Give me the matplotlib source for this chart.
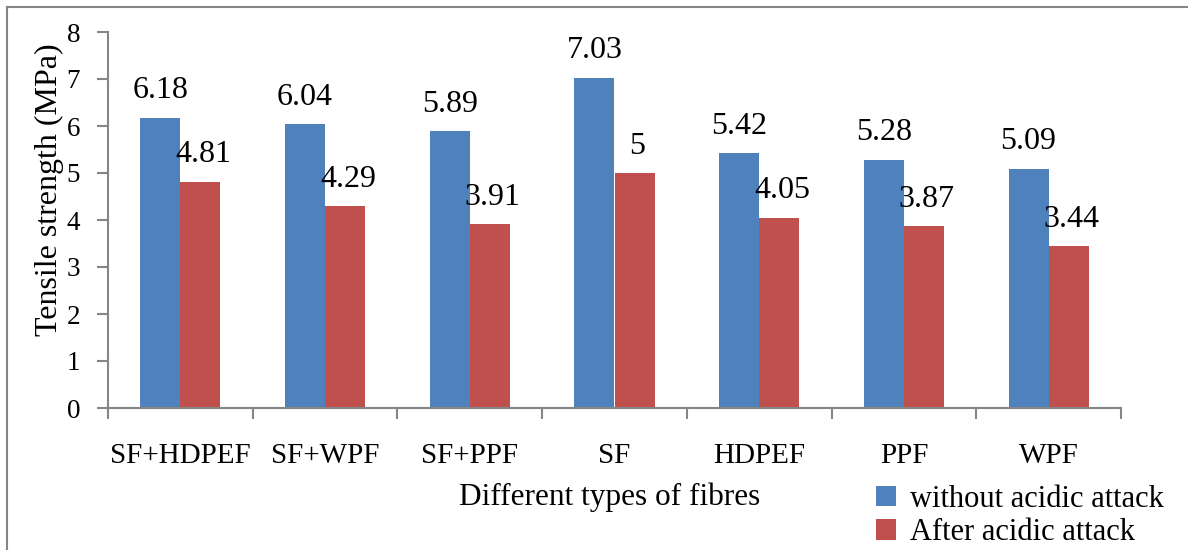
import matplotlib
matplotlib.use("Agg")
import matplotlib.pyplot as plt
import numpy as np
from matplotlib.lines import Line2D

categories = ["SF+HDPEF", "SF+WPF", "SF+PPF", "SF", "HDPEF", "PPF", "WPF"]
without_acid = [6.18, 6.04, 5.89, 7.03, 5.42, 5.28, 5.09]
after_acid = [4.81, 4.29, 3.91, 5.00, 4.05, 3.87, 3.44]
without_labels = ["6.18", "6.04", "5.89", "7.03", "5.42", "5.28", "5.09"]
after_labels = ["4.81", "4.29", "3.91", "5", "4.05", "3.87", "3.44"]
series_names = ["without acidic attack", "After acidic attack"]
yticks = [0, 1, 2, 3, 4, 5, 6, 7, 8]

plt.rcParams['font.family'] = ['Liberation Serif', 'DejaVu Serif']
W, H = 1188, 550
fig = plt.figure(figsize=(W / 100, H / 100), dpi=100)
ax = fig.add_axes([108 / W, 1 - 408 / H, (1121 - 108) / W, (408 - 32) / H])

blue = "#4F81BD"
red = "#C0504D"
gray = "#868686"
x = np.arange(len(categories))
bw = 0.277
b1 = ax.bar(x - bw / 2, without_acid, bw, color=blue, label=series_names[0])
b2 = ax.bar(x + bw / 2, after_acid, bw, color=red, label=series_names[1])

for xi, v, t in zip(x, without_acid, without_labels):
    ax.annotate(t, (xi - bw / 2, v), xytext=(0, 14), textcoords="offset points",
                ha="center", va="baseline", fontsize=23)
for xi, v, t in zip(x, after_acid, after_labels):
    ax.annotate(t, (xi + bw / 2, v), xytext=(2, 14), textcoords="offset points",
                ha="center", va="baseline", fontsize=23)

ax.set_xlim(-0.5, len(categories) - 0.5)
ax.set_ylim(0, 8)
ax.set_yticks(yticks)
ax.set_yticklabels([str(v) for v in yticks], fontsize=19.5)
ax.set_xticks(np.arange(-0.5, len(categories), 1.0))
ax.set_xticklabels([])
ax.set_xticks(x, minor=True)
ax.set_xticklabels(categories, minor=True, fontsize=21)
ax.tick_params(axis='x', which='minor', length=0, pad=25)
ax.tick_params(axis='x', which='major', length=8, color=gray, width=1.5)
ax.tick_params(axis='y', length=8, color=gray, width=1.5, pad=12)
for s in ["top", "right"]:
    ax.spines[s].set_visible(False)
for s in ["left", "bottom"]:
    ax.spines[s].set_color(gray)
    ax.spines[s].set_linewidth(1.5)

fig.text(49 / W, 1 - 190 / H, "Tensile strength (MPa)", ha="center", va="center",
         rotation=90, fontsize=23)
fig.text(610 / W, 1 - 497 / H, "Different types of fibres", ha="center", va="center", fontsize=22.5)

leg = fig.legend(handles=[b1, b2], loc="center left", bbox_to_anchor=(876 / W, 1 - 516 / H),
                 frameon=False, fontsize=22, handlelength=0.65, handleheight=0.65,
                 handletextpad=0.45, labelspacing=0.15, borderpad=0, borderaxespad=0)

fig.add_artist(Line2D([7 / W, 7 / W], [0, 1 - 7 / H], transform=fig.transFigure, color=gray, lw=1.5))
fig.add_artist(Line2D([7 / W, 1], [1 - 7 / H, 1 - 7 / H], transform=fig.transFigure, color=gray, lw=1.5))

fig.savefig("out.png", dpi=100)
